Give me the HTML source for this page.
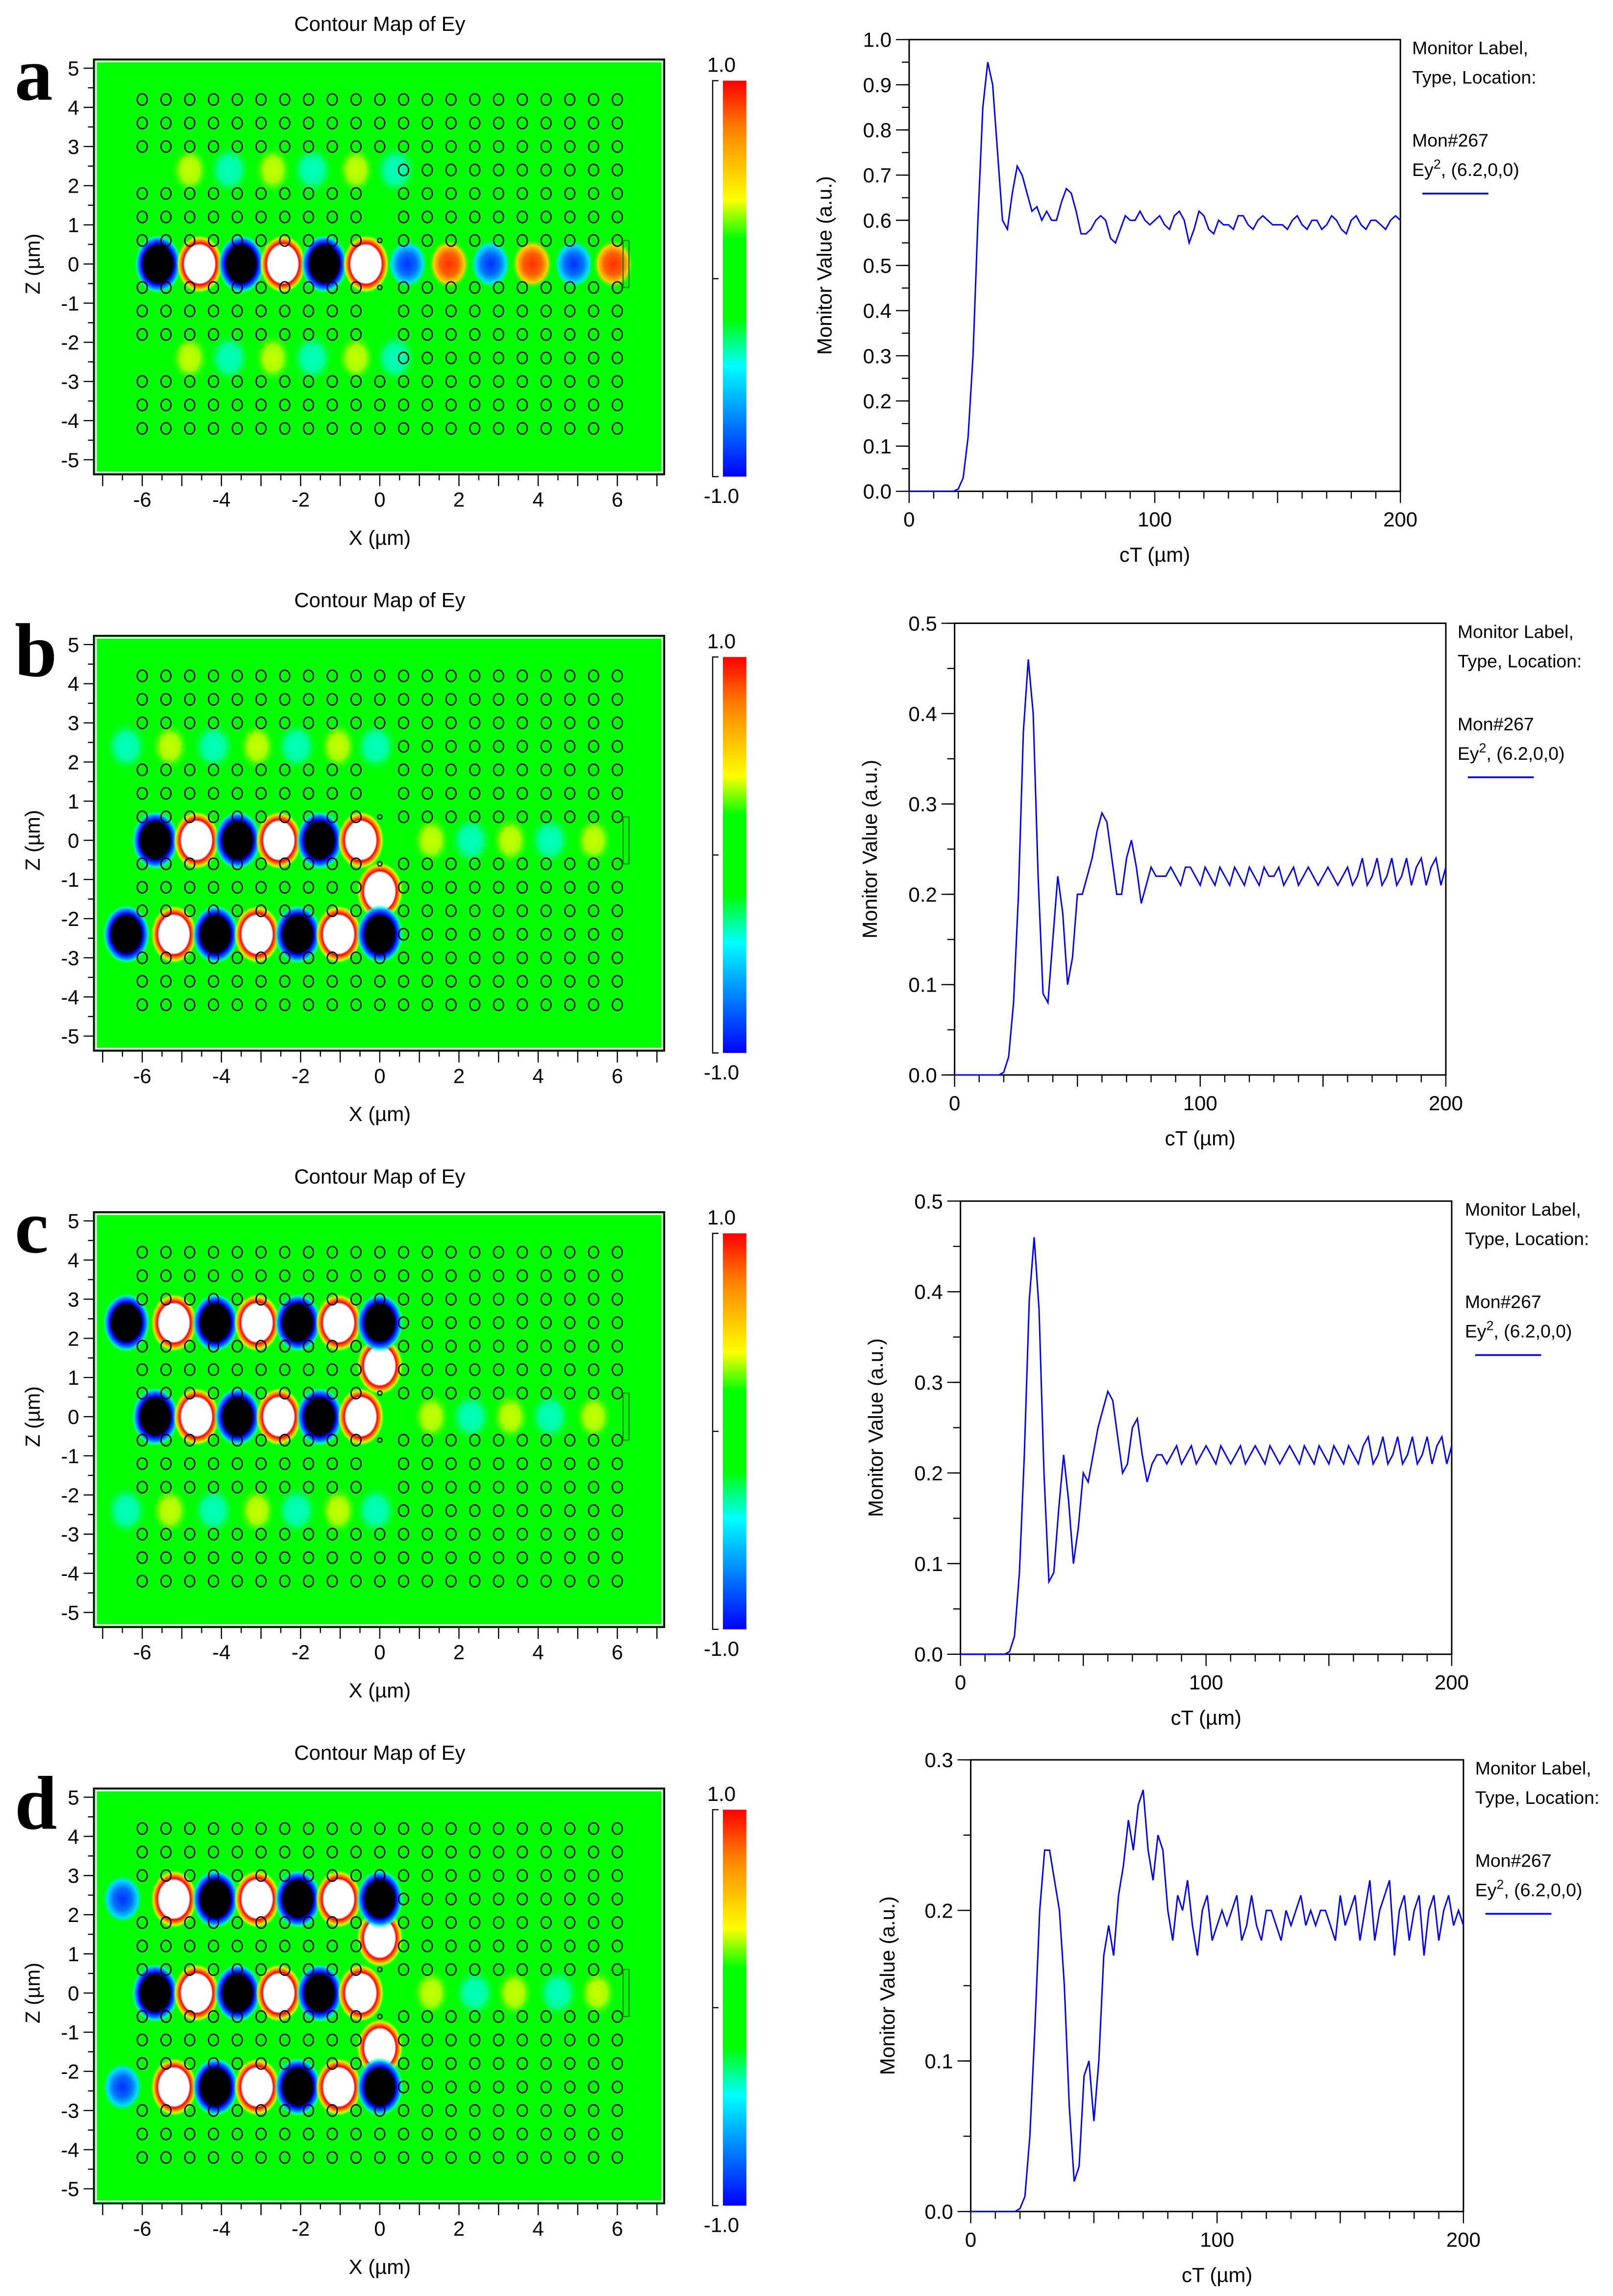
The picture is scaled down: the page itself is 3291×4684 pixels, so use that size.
<!DOCTYPE html>
<html><head><meta charset="utf-8"><title>Contour maps and monitor values</title>
<style>
html,body{margin:0;padding:0;background:#fff;}
svg{display:block;}
text{font-family:"Liberation Sans",Arial,sans-serif;fill:#000;}
text.serif{font-family:"Liberation Serif",serif;font-weight:bold;}
</style></head>
<body>
<svg id="fig" xmlns="http://www.w3.org/2000/svg" width="3291" height="4684" viewBox="0 0 1100 1565.6">
<defs>
<radialGradient id="gWhite"><stop offset="0" stop-color="#fff"/><stop offset="0.64" stop-color="#fff"/><stop offset="0.7" stop-color="#ff0000"/><stop offset="0.8" stop-color="#ff8000"/><stop offset="0.9" stop-color="#ffff00" stop-opacity="0.8"/><stop offset="1" stop-color="#00ff00" stop-opacity="0"/></radialGradient>
<radialGradient id="gBlack"><stop offset="0" stop-color="#000"/><stop offset="0.62" stop-color="#000"/><stop offset="0.7" stop-color="#0000ff"/><stop offset="0.83" stop-color="#0080ff"/><stop offset="0.93" stop-color="#00ffff" stop-opacity="0.7"/><stop offset="1" stop-color="#00ff00" stop-opacity="0"/></radialGradient>
<radialGradient id="gRed"><stop offset="0" stop-color="#ff3000"/><stop offset="0.45" stop-color="#ff6000"/><stop offset="0.75" stop-color="#ffd000"/><stop offset="1" stop-color="#00ff00" stop-opacity="0"/></radialGradient>
<radialGradient id="gBlue"><stop offset="0" stop-color="#0030ff"/><stop offset="0.45" stop-color="#0070ff"/><stop offset="0.75" stop-color="#00e0ff"/><stop offset="1" stop-color="#00ff00" stop-opacity="0"/></radialGradient>
<radialGradient id="gYel"><stop offset="0" stop-color="#c8ff00"/><stop offset="0.5" stop-color="#a8ff00"/><stop offset="1" stop-color="#00ff00" stop-opacity="0"/></radialGradient>
<radialGradient id="gCyan"><stop offset="0" stop-color="#00ffc0"/><stop offset="0.5" stop-color="#00ffa0"/><stop offset="1" stop-color="#00ff00" stop-opacity="0"/></radialGradient>
<linearGradient id="gBar" x1="0" y1="0" x2="0" y2="1"><stop offset="0" stop-color="#ff0000"/><stop offset="0.12" stop-color="#ff8000"/><stop offset="0.3" stop-color="#ffff00"/><stop offset="0.4" stop-color="#00ff00"/><stop offset="0.6" stop-color="#00ff00"/><stop offset="0.72" stop-color="#00ffff"/><stop offset="0.86" stop-color="#0080ff"/><stop offset="1" stop-color="#0000ff"/></linearGradient>
</defs>
</svg>
<script>
// ---- chart data (x: cT in µm, step 2 from 0 to 200) ----
const ctStep = 2;
const seriesA = [0,0,0,0,0,0,0,0,0,0, 0.005,0.03,0.12,0.3,0.6,0.85,0.95,0.9,0.75,0.6,0.58,0.66,0.72,0.7,0.66,0.62,0.63,0.6,0.62,0.6,0.6,0.64,0.67,0.66,0.62,0.57,0.57,0.58,0.6,0.61,0.6,0.56,0.55,0.58,0.61,0.6,0.6,0.62,0.6,0.59,0.6,0.61,0.59,0.58,0.61,0.62,0.6,0.55,0.58,0.62,0.61,0.58,0.57,0.6,0.59,0.59,0.58,0.61,0.61,0.59,0.58,0.6,0.61,0.6,0.59,0.59,0.59,0.58,0.6,0.61,0.59,0.58,0.6,0.6,0.58,0.59,0.61,0.6,0.58,0.57,0.6,0.61,0.59,0.58,0.6,0.6,0.59,0.58,0.6,0.61,0.6];
const seriesB = [0,0,0,0,0,0,0,0,0,0, 0.003,0.02,0.08,0.2,0.38,0.46,0.4,0.22,0.09,0.08,0.15,0.22,0.18,0.1,0.13,0.2,0.2,0.22,0.24,0.27,0.29,0.28,0.24,0.2,0.2,0.24,0.26,0.23,0.19,0.21,0.23,0.22,0.22,0.22,0.23,0.22,0.21,0.23,0.23,0.22,0.21,0.23,0.22,0.21,0.23,0.22,0.21,0.23,0.22,0.21,0.23,0.22,0.21,0.23,0.22,0.22,0.23,0.21,0.22,0.23,0.21,0.22,0.23,0.22,0.21,0.22,0.23,0.22,0.21,0.22,0.23,0.21,0.22,0.24,0.21,0.22,0.24,0.21,0.22,0.24,0.21,0.22,0.24,0.21,0.23,0.24,0.21,0.23,0.24,0.21,0.23];
const seriesC = [0,0,0,0,0,0,0,0,0,0, 0.003,0.02,0.09,0.22,0.39,0.46,0.38,0.2,0.08,0.09,0.16,0.22,0.17,0.1,0.14,0.2,0.19,0.22,0.25,0.27,0.29,0.28,0.24,0.2,0.21,0.25,0.26,0.22,0.19,0.21,0.22,0.22,0.21,0.22,0.23,0.21,0.22,0.23,0.21,0.22,0.23,0.22,0.21,0.23,0.22,0.21,0.22,0.23,0.21,0.22,0.23,0.22,0.21,0.23,0.22,0.21,0.22,0.23,0.22,0.21,0.23,0.22,0.21,0.23,0.22,0.21,0.23,0.22,0.21,0.23,0.22,0.21,0.23,0.24,0.21,0.22,0.24,0.21,0.22,0.24,0.21,0.22,0.24,0.21,0.22,0.24,0.21,0.23,0.24,0.21,0.23];
const seriesD = [0,0,0,0,0,0,0,0,0,0, 0.002,0.01,0.05,0.12,0.2,0.24,0.24,0.22,0.2,0.15,0.07,0.02,0.03,0.09,0.1,0.06,0.1,0.17,0.19,0.17,0.21,0.23,0.26,0.24,0.27,0.28,0.24,0.22,0.25,0.24,0.2,0.18,0.21,0.2,0.22,0.19,0.17,0.2,0.21,0.18,0.19,0.2,0.19,0.2,0.21,0.18,0.19,0.21,0.19,0.18,0.2,0.2,0.19,0.18,0.2,0.19,0.2,0.21,0.19,0.2,0.19,0.2,0.2,0.19,0.18,0.21,0.19,0.2,0.21,0.18,0.2,0.22,0.18,0.2,0.21,0.22,0.17,0.2,0.21,0.18,0.2,0.21,0.17,0.2,0.21,0.18,0.2,0.21,0.19,0.2,0.19];
const yTicksA = [0,0.1,0.2,0.3,0.4,0.5,0.6,0.7,0.8,0.9,1.0];
const yTicksB = [0,0.1,0.2,0.3,0.4,0.5];
const yTicksD = [0,0.1,0.2,0.3];
const xTicksLine = [0,100,200];
const xTicksMap = [-6,-4,-2,0,2,4,6];
const zTicksMap = [5,4,3,2,1,0,-1,-2,-3,-4,-5];
// field blobs: [x, z, type]
const blobsA = [[-5.6,0,'k'],[-4.55,0,'w'],[-3.5,0,'k'],[-2.45,0,'w'],[-1.4,0,'k'],[-0.35,0,'w'],[0.7,0,'b'],[1.75,0,'r'],[2.8,0,'b'],[3.85,0,'r'],[4.9,0,'b'],[5.9,0,'r'],
 [-4.8,2.4,'y'],[-3.8,2.4,'c'],[-2.7,2.4,'y'],[-1.7,2.4,'c'],[-0.6,2.4,'y'],[0.4,2.4,'c'],[-4.8,-2.4,'y'],[-3.8,-2.4,'c'],[-2.7,-2.4,'y'],[-1.7,-2.4,'c'],[-0.6,-2.4,'y'],[0.4,-2.4,'c']];
const blobsB = [[-5.67,0,'k'],[-4.63,0,'w'],[-3.59,0,'k'],[-2.55,0,'w'],[-1.52,0,'k'],[-0.48,0,'w'],[0,-1.3,'w'],
 [-6.4,-2.4,'k'],[-5.2,-2.4,'w'],[-4.15,-2.4,'k'],[-3.1,-2.4,'w'],[-2.07,-2.4,'k'],[-1.04,-2.4,'w'],[0,-2.4,'k'],
 [1.3,0,'y'],[2.3,0,'c'],[3.3,0,'y'],[4.3,0,'c'],[5.4,0,'y'],
 [-6.4,2.4,'c'],[-5.3,2.4,'y'],[-4.2,2.4,'c'],[-3.1,2.4,'y'],[-2.1,2.4,'c'],[-1.05,2.4,'y'],[-0.1,2.4,'c']];
const blobsC = [[-5.67,0,'k'],[-4.63,0,'w'],[-3.59,0,'k'],[-2.55,0,'w'],[-1.52,0,'k'],[-0.48,0,'w'],[0,1.3,'w'],
 [-6.4,2.4,'k'],[-5.2,2.4,'w'],[-4.15,2.4,'k'],[-3.1,2.4,'w'],[-2.07,2.4,'k'],[-1.04,2.4,'w'],[0,2.4,'k'],
 [1.3,0,'y'],[2.3,0,'c'],[3.3,0,'y'],[4.3,0,'c'],[5.4,0,'y'],
 [-6.4,-2.4,'c'],[-5.3,-2.4,'y'],[-4.2,-2.4,'c'],[-3.1,-2.4,'y'],[-2.1,-2.4,'c'],[-1.05,-2.4,'y'],[-0.1,-2.4,'c']];
const blobsD = [[-5.67,0,'k'],[-4.63,0,'w'],[-3.59,0,'k'],[-2.55,0,'w'],[-1.52,0,'k'],[-0.48,0,'w'],[0,1.4,'w'],[0,-1.4,'w'],
 [-6.5,2.4,'b'],[-5.2,2.4,'w'],[-4.15,2.4,'k'],[-3.1,2.4,'w'],[-2.07,2.4,'k'],[-1.04,2.4,'w'],[0,2.4,'k'],
 [-6.5,-2.4,'b'],[-5.2,-2.4,'w'],[-4.15,-2.4,'k'],[-3.1,-2.4,'w'],[-2.07,-2.4,'k'],[-1.04,-2.4,'w'],[0,-2.4,'k'],
 [1.3,0,'y'],[2.4,0,'c'],[3.4,0,'y'],[4.5,0,'c'],[5.5,0,'y']];

const NS='http://www.w3.org/2000/svg';
const svg=document.getElementById('fig');
function mk(tag,attrs,parent){const e=document.createElementNS(NS,tag);for(const k in attrs)e.setAttribute(k,attrs[k]);(parent||svg).appendChild(e);return e;}
function txt(s,x,y,size,anchor,parent,extra){const t=mk('text',Object.assign({x:x,y:y,'font-size':size,'text-anchor':anchor||'middle'},extra||{}),parent);t.textContent=s;return t;}

function contourPanel(letter,oy,blobs){
  const g=mk('g',{});
  
  
  const X0=259,SX=27,Z0=180+oy,SZ=26.7;
  const px=x=>X0+x*SX, pz=z=>Z0-z*SZ;
  const lab=txt(letter,10,oy+68,52,'start',g,{'class':'serif'});
  
  
  const title=txt('Contour Map of Ey',259,oy+21,14,'middle',g);
  
  
  const frame=mk('rect',{x:64,y:oy+40.5,width:389,height:283,fill:'#00ff00',stroke:'#000','stroke-width':1.2},g);
  
  
  mk('rect',{x:65.5,y:oy+42,width:386,height:280,fill:'none',stroke:'#fff','stroke-width':1},g);
  const clip='clip'+letter;
  const cp=mk('clipPath',{id:clip},g);mk('rect',{x:66,y:oy+43,width:385,height:278},cp);
  const bg=mk('g',{'clip-path':'url(#'+clip+')'},g);
  const grad={k:'gBlack',w:'gWhite',r:'gRed',b:'gBlue',y:'gYel',c:'gCyan'};
  const sz={k:[16,20],w:[16,20],r:[14,17],b:[14,17],y:[13,17],c:[15,18]};
  blobs.forEach(b=>{const e=mk('ellipse',{cx:px(b[0]),cy:pz(b[1]),rx:sz[b[2]][0],ry:sz[b[2]][1],fill:'url(#'+grad[b[2]]+')'},bg);
    
    });
  // holes
  const rows=[4.2,3.6,3.0,2.4,1.8,1.2,0.6,-0.6,-1.2,-1.8,-2.4,-3.0,-3.6,-4.2];
  for(const z of rows){for(let i=0;i<21;i++){const x=-6+i*0.6;
    if(Math.abs(Math.abs(z)-2.4)<0.01 && x<0.3) continue;
    if(Math.abs(x)<0.01 && (Math.abs(Math.abs(z)-1.2)<0.01||Math.abs(Math.abs(z)-1.8)<0.01)) continue;
    let hit=false;blobs.forEach(b=>{if((b[2]=='k'||b[2]=='w')&&Math.abs(b[0]-x)<0.45&&Math.abs(b[1]-z)<0.45)hit=true;});
    if(hit) continue;
    if(Math.abs(x)<0.01&&Math.abs(Math.abs(z)-0.6)<0.01){mk('circle',{cx:px(x),cy:pz(z),r:1.5,fill:'none',stroke:'#000','stroke-width':0.8},bg);continue;}
    const h=mk('ellipse',{cx:px(x),cy:pz(z),rx:3.4,ry:3.9,fill:'none',stroke:'#000','stroke-width':0.9},bg);
    
    }}
  mk('rect',{x:px(6.2)-1.5,y:pz(0.6),width:4,height:pz(-0.6)-pz(0.6),fill:'none',stroke:'#080','stroke-width':0.8},bg);
  // axes ticks
  const axL=64, axB=oy+323.5;
  for(let z=-5;z<=5;z+=0.5){const y=pz(z);mk('line',{x1:axL-(z%1===0?7:4),y1:y,x2:axL,y2:y,stroke:'#000','stroke-width':0.8},g);}
  zTicksMap.forEach(z=>{const t=txt(String(z),axL-10,pz(z)+5,14,'end',g);
    
    });
  for(let x=-7;x<=7;x+=0.5){const xx=px(x);mk('line',{x1:xx,y1:axB,x2:xx,y2:axB+(x%1===0?8:4),stroke:'#000','stroke-width':0.8},g);}
  xTicksMap.forEach(x=>{const t=txt(String(x),px(x),axB+22,14,'middle',g);
    
    });
  const xt=txt('X (\u00b5m)',259,axB+48,14,'middle',g);
  
  
  const zt=txt('Z (\u00b5m)',0,0,14,'middle',g,{transform:'translate(27,'+(Z0)+') rotate(-90)'});
  
  
  // colorbar
  const cb=mk('rect',{x:493,y:oy+55,width:16,height:270,fill:'url(#gBar)'},g);
  
  
  mk('polyline',{points:`490,${oy+55} 486,${oy+55} 486,${oy+325} 490,${oy+325}`,fill:'none',stroke:'#000','stroke-width':0.8},g);
  mk('line',{x1:486,y1:oy+190,x2:490,y2:oy+190,stroke:'#000','stroke-width':0.8},g);
  const c1=txt('1.0',492,oy+49,14,'middle',g);
  
  
  const c2=txt('-1.0',492,oy+343,14,'middle',g);
  
  
}

function linePanel(letter,L,R,T,B,ymax,yticks,data,legX,ytitleX){
  const g=mk('g',{});
  
  
  const xs=v=>L+(v/200)*(R-L), ys=v=>B-(v/ymax)*(B-T);
  const box=mk('rect',{x:L,y:T,width:R-L,height:B-T,fill:'none',stroke:'#000','stroke-width':1},g);
  
  
  const minorY = ymax/ (yticks.length-1) /2;
  for(let v=0;v<=ymax+1e-9;v+=minorY){mk('line',{x1:L-5,y1:ys(v),x2:L,y2:ys(v),stroke:'#000','stroke-width':0.8},g);}
  yticks.forEach(v=>{mk('line',{x1:L-9,y1:ys(v),x2:L,y2:ys(v),stroke:'#000','stroke-width':0.8},g);
    const t=txt(v.toFixed(1),L-12,ys(v)+5,14,'end',g);
    
    });
  for(let v=0;v<=200;v+=10){mk('line',{x1:xs(v),y1:B,x2:xs(v),y2:B+(v%50===0?8:5),stroke:'#000','stroke-width':0.8},g);}
  xTicksLine.forEach(v=>{const t=txt(String(v),xs(v),B+24,14,'middle',g);
    
    });
  const xt=txt('cT (\u00b5m)',(L+R)/2,B+48,14,'middle',g);
  
  
  const yt=txt('Monitor Value (a.u.)',0,0,14,'middle',g,{transform:`translate(${ytitleX},${(T+B)/2}) rotate(-90)`});
  
  
  const pts=data.map((v,i)=>xs(i*ctStep).toFixed(2)+','+ys(v).toFixed(2)).join(' ');
  const pl=mk('polyline',{points:pts,fill:'none',stroke:'#0000ff','stroke-width':1},g);
  
  
  const lg=mk('g',{},g);
  
  
  txt('Monitor Label,',legX,T+10,12.5,'start',lg);
  txt('Type, Location:',legX,T+30,12.5,'start',lg);
  txt('Mon#267',legX,T+73,12.5,'start',lg);
  const e=txt('Ey',legX,T+93,12.5,'start',lg);
  const s=mk('tspan',{dy:-5,'font-size':9},e);s.textContent='2';
  const s2=mk('tspan',{dy:5},e);s2.textContent=', (6.2,0,0)';
  const ll=mk('line',{x1:legX+7,y1:T+105,x2:legX+52,y2:T+105,stroke:'#0000ff','stroke-width':1.2},lg);
  
  
}

contourPanel('a',0,blobsA);
contourPanel('b',393,blobsB);
contourPanel('c',786,blobsC);
contourPanel('d',1179,blobsD);
linePanel('a',620,955,27,335,1.0,yTicksA,seriesA,963,567);
linePanel('b',651,986,425,733,0.5,yTicksB,seriesB,994,598);
linePanel('c',655,990,819,1128,0.5,yTicksB,seriesC,999,602);
linePanel('d',662,998,1200,1508,0.3,yTicksD,seriesD,1006,610);
</script>
</body></html>
